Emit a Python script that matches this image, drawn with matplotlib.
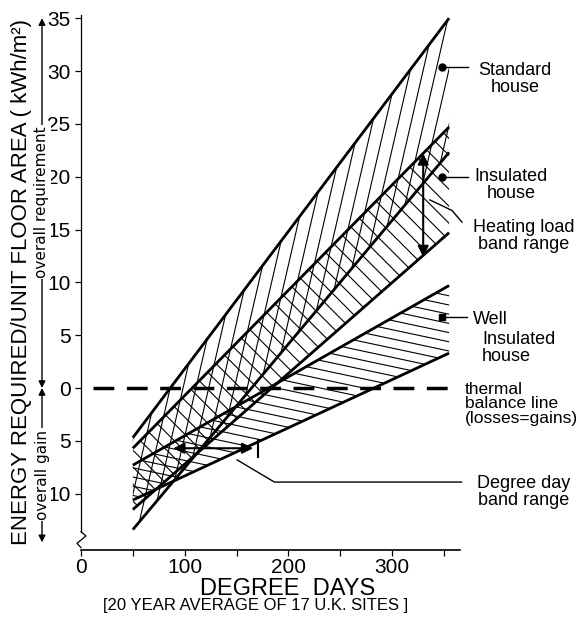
import numpy as np
import matplotlib.pyplot as plt
import matplotlib.transforms as mtransforms
from matplotlib.patches import Polygon

# degree days at the two ends of every band
band_x = [50, 355]

# energy required (kWh/m2) at the two ends: upper / lower edge of each band
standard_hi = [-4.7, 35.0]
standard_lo = [-13.4, 22.3]
insulated_hi = [-5.7, 24.7]
insulated_lo = [-11.5, 14.7]
well_hi = [-7.3, 9.7]
well_lo = [-10.6, 3.3]

# thermal balance line
balance_x = [11.5, 355]
balance_y = [0, 0]

# markers on the bands
dot_x = 348
standard_dot = 30.4
insulated_dot = 20.0
well_dot = 6.7

# heating load band range arrow (degree days, from, to)
heat_x = 330
heat_range = [22.2, 12.4]

# degree day band range arrow (energy, from, to)
dd_y = -5.7
dd_range = [89, 166]
dd_stop = 171

yticks = [35, 30, 25, 20, 15, 10, 5, 0, -5, -10]
ytick_labels = ['35', '30', '25', '20', '15', '10', '5', '0', '5', '10']
xticks = [0, 100, 200, 300]
xticks_minor = [50, 150, 250, 350]

plt.rcParams['font.family'] = ['Liberation Sans', 'DejaVu Sans']

fig = plt.figure(figsize=(5.8, 6.18), dpi=100)
ax = fig.add_axes([81 / 580, 68 / 618, 379 / 580, 535 / 618])
ax.set_xlim(0, 365.5)
ax.set_ylim(-15.33, 35.3)


def hatch(hi, lo, angle, step, lw=0.8):
    # parallel lines at a screen angle, clipped to the band
    verts = np.array([[band_x[0], hi[0]], [band_x[1], hi[1]],
                      [band_x[1], lo[1]], [band_x[0], lo[0]]])
    poly = Polygon(verts, closed=True, fc='none', ec='none')
    ax.add_patch(poly)
    pix = ax.transData.transform(verts)
    t = np.radians(angle)
    u = np.array([np.cos(t), np.sin(t)])
    n = np.array([-np.sin(t), np.cos(t)])
    d = pix @ n
    s = pix @ u
    inv = ax.transData.inverted()
    for off in np.arange(d.min() + step / 2, d.max(), step):
        p = np.array([off * n + (s.min() - 5) * u, off * n + (s.max() + 5) * u])
        q = inv.transform(p)
        ln, = ax.plot(q[:, 0], q[:, 1], color='black', lw=lw)
        ln.set_clip_path(poly)


hatch(standard_hi, standard_lo, 77, 12.5)
hatch(insulated_hi, insulated_lo, -45, 12)
hatch(well_hi, well_lo, -12, 9)

for yy in [standard_hi, standard_lo, insulated_hi, insulated_lo, well_hi, well_lo]:
    ax.plot(band_x, yy, color='black', lw=2.0, solid_capstyle='butt')

ax.plot(balance_x, balance_y, color='black', lw=2.5, dashes=(6, 3.6))

# markers and leaders
ax.plot([dot_x, 373], [standard_dot, standard_dot], color='black', lw=1, clip_on=False)
ax.plot([dot_x, 373], [insulated_dot, insulated_dot], color='black', lw=1, clip_on=False)
ax.plot([dot_x, 372], [well_dot, well_dot], color='black', lw=1, clip_on=False)
ax.plot([dot_x, dot_x], [standard_dot, insulated_dot], 'o', color='black', ms=5)
ax.plot([dot_x], [well_dot], 's', color='black', ms=5)
ax.plot([367.4, 357.8, 336.5], [15.7, 16.8, 17.8], color='black', lw=1, clip_on=False)
ax.plot([150.5, 186.5, 367], [-6.8, -8.9, -8.9], color='black', lw=1, clip_on=False)

ax.annotate('', xy=(heat_x, heat_range[1]), xytext=(heat_x, heat_range[0]),
            arrowprops=dict(arrowstyle='<|-|>', color='black', lw=1.5,
                            mutation_scale=16, shrinkA=0, shrinkB=0))
ax.annotate('', xy=(dd_range[1], dd_y), xytext=(dd_range[0], dd_y),
            arrowprops=dict(arrowstyle='<|-|>', color='black', lw=1.5,
                            mutation_scale=16, shrinkA=0, shrinkB=0))
ax.plot([dd_stop, dd_stop], [dd_y - 0.8, dd_y + 0.8], color='black', lw=1.5)

# axes
for side in ['top', 'right']:
    ax.spines[side].set_visible(False)
ax.spines['left'].set_bounds(-13.6, 35.3)
ax.spines['left'].set_linewidth(0.9)
ax.spines['bottom'].set_linewidth(1.2)
ax.set_yticks(yticks)
ax.set_yticklabels(ytick_labels)
ax.set_xticks(xticks)
ax.set_xticks(xticks_minor, minor=True)
ax.tick_params(axis='both', which='both', labelsize=15, length=4, width=0.9)
ax.tick_params(axis='x', pad=2)
ax.plot([0, 4.8, -3.9, 0], [-13.6, -14.0, -14.7, -15.1], color='black', lw=0.9, clip_on=False)

fig.text(288 / 580, 1 - 595 / 618, 'DEGREE  DAYS', fontsize=17, ha='center', va='baseline')
fig.text(256 / 580, 1 - 610 / 618, '[20 YEAR AVERAGE OF 17 U.K. SITES ]', fontsize=12,
         ha='center', va='baseline')
fig.text(22 / 580, 1 - 282 / 618, 'ENERGY REQUIRED/UNIT FLOOR AREA ( kWh/m²)',
         fontsize=16, rotation=90, ha='center', va='center')

# overall requirement / overall gain arrows left of the axis
trans = mtransforms.blended_transform_factory(fig.transFigure, ax.transData)
ax.annotate('', xy=(42 / 580, 35), xytext=(42 / 580, 0), xycoords=trans, textcoords=trans,
            arrowprops=dict(arrowstyle='<|-|>', color='black', lw=1, mutation_scale=10,
                            shrinkA=0, shrinkB=0), annotation_clip=False)
ax.annotate('', xy=(42 / 580, -14.6), xytext=(42 / 580, 0), xycoords=trans, textcoords=trans,
            arrowprops=dict(arrowstyle='<|-|>', color='black', lw=1, mutation_scale=10,
                            shrinkA=0, shrinkB=0), annotation_clip=False)
ax.text(42 / 580, 17.6, 'overall requirement', transform=trans, rotation=90, fontsize=11,
        ha='center', va='center', family='DejaVu Sans',
        bbox=dict(fc='white', ec='none', pad=1))
ax.text(42 / 580, -8.2, 'overall gain', transform=trans, rotation=90, fontsize=11,
        ha='center', va='center', family='DejaVu Sans',
        bbox=dict(fc='white', ec='none', pad=1))

# right-hand labels
fig.text(515 / 580, 1 - 79 / 618, 'Standard\nhouse', fontsize=13, ha='center', va='center',
         linespacing=1.0)
fig.text(511 / 580, 1 - 185 / 618, 'Insulated\nhouse', fontsize=13, ha='center', va='center',
         linespacing=1.0)
fig.text(524 / 580, 1 - 236 / 618, 'Heating load\nband range', fontsize=13, ha='center',
         va='center', linespacing=1.0)
fig.text(473 / 580, 1 - 319 / 618, 'Well', fontsize=13, ha='left', va='center')
fig.text(482 / 580, 1 - 348 / 618, 'Insulated\nhouse', fontsize=13, ha='left', va='center',
         linespacing=1.0)
fig.text(465 / 580, 1 - 404 / 618, 'thermal\nbalance line\n(losses=gains)', fontsize=12.5,
         ha='left', va='center', linespacing=0.95)
fig.text(524 / 580, 1 - 492 / 618, 'Degree day\nband range', fontsize=13, ha='center',
         va='center', linespacing=1.0)

fig.savefig('out.png', dpi=100)
